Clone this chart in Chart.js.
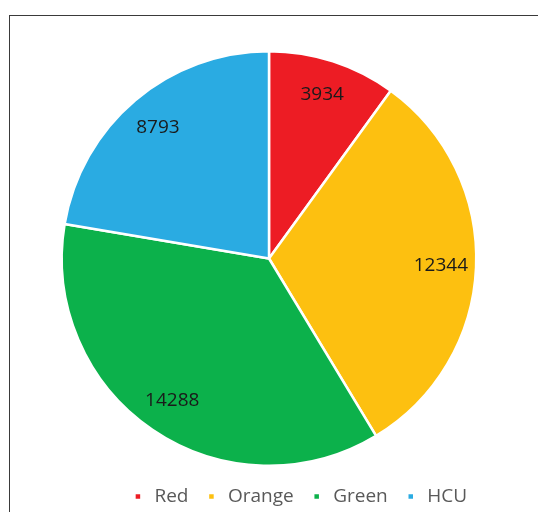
<!DOCTYPE html>
<html>
<head>
<meta charset="utf-8">
<script src="https://cdn.jsdelivr.net/npm/chart.js@4"></script>
<style>
    html, body { margin: 0; padding: 0; background: #fff; }
    body { width: 538px; height: 512px; position: relative; overflow: hidden; }
    .frame {
        position: absolute; left: 9px; top: 15px; width: 620px; height: 620px;
        border: 1.5px solid #3a3a3a; box-sizing: border-box;
    }
    #wrap { position: absolute; left: 0; top: 0; width: 538px; height: 520px; }
</style>
</head>
<body>
<div class="frame"></div>
<div id="wrap"><canvas id="pieChart"></canvas></div>
<script>
// Patient counts by triage category
const categories = ['Red', 'Orange', 'Green', 'HCU'];
const patientCounts = [3934, 12344, 14288, 8793];
const sliceColors = ['#ED1C24', '#FDC010', '#0CB14B', '#2AABE2'];

// Writes each slice value near the outer edge of its slice
const sliceLabels = {
    id: 'sliceLabels',
    afterDatasetsDraw(chart) {
        const ctx = chart.ctx;
        const meta = chart.getDatasetMeta(0);
        ctx.save();
        ctx.font = '19px "Open Sans", sans-serif';
        ctx.fillStyle = '#1a1a1a';
        ctx.textAlign = 'center';
        ctx.textBaseline = 'middle';
        meta.data.forEach((arc, i) => {
            const p = arc.getProps(['x', 'y', 'startAngle', 'endAngle', 'outerRadius'], true);
            const mid = (p.startAngle + p.endAngle) / 2;
            const r = p.outerRadius * 0.83;
            ctx.fillText(String(patientCounts[i]), p.x + Math.cos(mid) * r, p.y + Math.sin(mid) * r);
        });
        ctx.restore();
    }
};

// Legend sits a little right of the pie centre and a bit lower
const legendShift = {
    id: 'legendShift',
    afterLayout(chart) {
        if (!chart.legend) return;
        chart.legend.left += 30;
        chart.legend.right += 30;
        chart.legend.top += 4;
        chart.legend.bottom += 4;
    }
};

function initPieChart() {
    const ctx = document.getElementById('pieChart');
    if (!ctx) return;

    new Chart(ctx, {
        type: 'pie',
        data: {
            labels: categories,
            datasets: [{
                data: patientCounts,
                backgroundColor: sliceColors,
                borderColor: '#ffffff',
                borderWidth: 2.5
            }]
        },
        options: {
            responsive: true,
            maintainAspectRatio: false,
            animation: false,
            layout: {
                padding: { top: 50, bottom: 8, left: 0, right: 0 }
            },
            plugins: {
                tooltip: { enabled: false },
                legend: {
                    position: 'bottom',
                    labels: {
                        usePointStyle: true,
                        pointStyle: 'rect',
                        boxWidth: 14,
                        boxHeight: 7,
                        padding: 16,
                        color: '#595959',
                        font: { family: '"Open Sans", sans-serif', size: 19 }
                    }
                }
            }
        },
        plugins: [sliceLabels, legendShift]
    });
}

initPieChart();
</script>
</body>
</html>
